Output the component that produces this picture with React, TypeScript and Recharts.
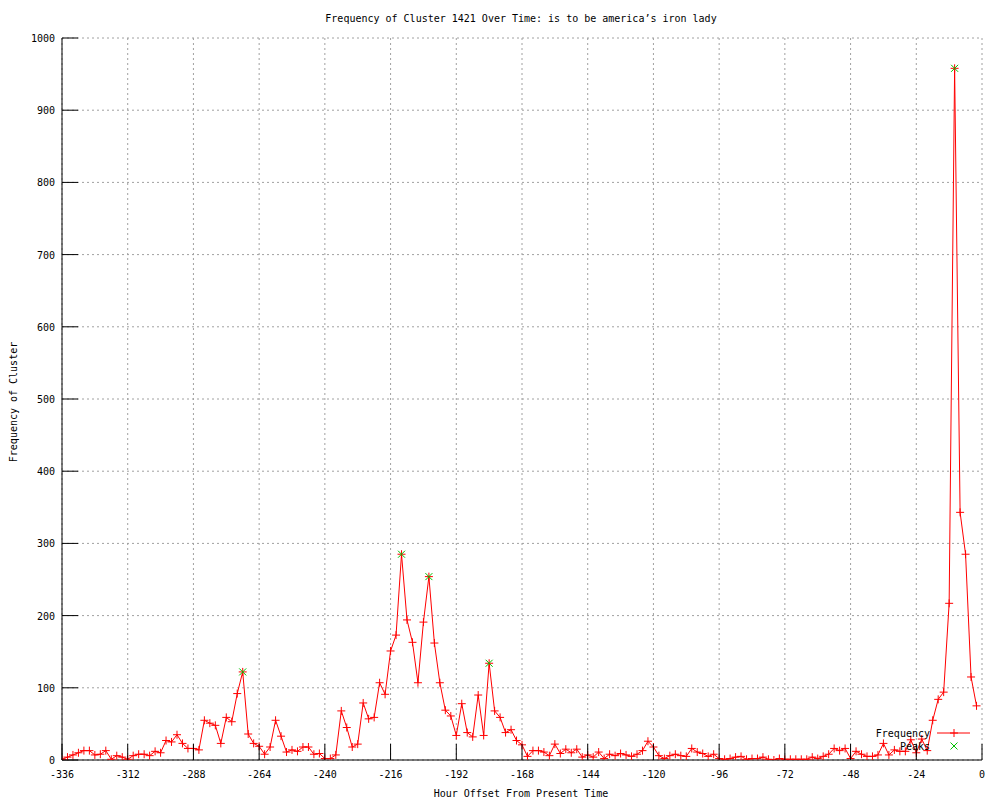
import { CartesianGrid, ComposedChart, Line, Scatter, XAxis, YAxis } from "recharts";

const hours = [
  -336, -334, -332, -330, -328, -326, -324, -322, -320, -318, -316, -314, -312, -310, -308, -306, -304, -302, -300,
  -298, -296, -294, -292, -290, -288, -286, -284, -282, -280, -278, -276, -274, -272, -270, -268, -266, -264, -262,
  -260, -258, -256, -254, -252, -250, -248, -246, -244, -242, -240, -238, -236, -234, -232, -230, -228, -226, -224,
  -222, -220, -218, -216, -214, -212, -210, -208, -206, -204, -202, -200, -198, -196, -194, -192, -190, -188, -186,
  -184, -182, -180, -178, -176, -174, -172, -170, -168, -166, -164, -162, -160, -158, -156, -154, -152, -150, -148,
  -146, -144, -142, -140, -138, -136, -134, -132, -130, -128, -126, -124, -122, -120, -118, -116, -114, -112, -110,
  -108, -106, -104, -102, -100, -98, -96, -94, -92, -90, -88, -86, -84, -82, -80, -78, -76, -74, -72,
  -70, -68, -66, -64, -62, -60, -58, -56, -54, -52, -50, -48, -46, -44, -42, -40, -38, -36, -34,
  -32, -30, -28, -26, -24, -22, -20, -18, -16, -14, -12, -10, -8, -6, -4, -2,
];

const counts = [
  1, 4, 7, 10, 13, 13, 7, 8, 13, 1, 6, 4, 1, 6, 8, 8, 6, 12, 10,
  27, 25, 35, 23, 16, 16, 14, 55, 51, 48, 23, 59, 53, 92, 122, 36, 23, 19, 8,
  18, 55, 33, 11, 14, 12, 18, 18, 8, 9, 2, 2, 7, 68, 45, 18, 22, 79, 57,
  59, 107, 91, 151, 173, 285, 194, 163, 107, 191, 254, 162, 107, 69, 61, 34, 78, 38, 32,
  90, 34, 134, 68, 59, 38, 42, 27, 21, 5, 13, 13, 11, 6, 22, 9, 15, 10, 15,
  4, 7, 4, 11, 2, 8, 6, 9, 7, 5, 8, 13, 26, 18, 6, 2, 6, 8, 6,
  5, 16, 11, 9, 5, 8, 2, 1, 2, 4, 5, 1, 2, 2, 4, 1, 0, 2, 1,
  1, 1, 1, 1, 4, 2, 5, 8, 16, 13, 16, 2, 12, 8, 5, 5, 7, 23, 7,
  14, 12, 12, 28, 10, 29, 13, 55, 84, 94, 217, 958, 343, 285, 115, 75,
];

const peakHours = [-270, -212, -202, -180, -10];
const peakCounts = [122, 285, 254, 134, 958];

const xTicks = [-336, -312, -288, -264, -240, -216, -192, -168, -144, -120, -96, -72, -48, -24, 0];
const yTicks = [0, 100, 200, 300, 400, 500, 600, 700, 800, 900, 1000];

const freqData = hours.map((h, i) => ({ hour: h, count: counts[i] }));
const peakData = peakHours.map((h, i) => ({ hour: h, peak: peakCounts[i] }));

const RED = "#ff0000";
const GREEN = "#00c000";
const FONT = "'DejaVu Sans Mono', monospace";
const TICK = 16;

function plus(cx: number, cy: number, r = 4) {
  return `M${cx - r},${cy}H${cx + r}M${cx},${cy - r}V${cy + r}`;
}

function cross(cx: number, cy: number, r = 3.5) {
  return `M${cx - r},${cy - r}L${cx + r},${cy + r}M${cx - r},${cy + r}L${cx + r},${cy - r}`;
}

function PlusDot(props: any) {
  const { cx, cy, index } = props;
  if (cx == null || cy == null) return <g key={index} />;
  return <path key={index} d={plus(cx, cy)} stroke={RED} strokeWidth={1} fill="none" />;
}

function PeakMark(props: any) {
  const { cx, cy } = props;
  return <path d={cross(cx, cy)} stroke={GREEN} strokeWidth={1} fill="none" />;
}

function BottomTick({ x, y, payload }: any) {
  return (
    <g>
      <line x1={x} x2={x} y1={y} y2={y - TICK} stroke="#000" />
      <text x={x} y={y + 18} textAnchor="middle" fontFamily={FONT} fontSize={10} fill="#000">
        {payload.value}
      </text>
    </g>
  );
}

function TopTick({ x, y }: any) {
  return <line x1={x} x2={x} y1={y} y2={y + TICK} stroke="#000" />;
}

function LeftTick({ x, y, payload }: any) {
  return (
    <g>
      <line x1={x} x2={x + TICK} y1={y} y2={y} stroke="#000" />
      <text x={x - 7} y={y + 4} textAnchor="end" fontFamily={FONT} fontSize={10} fill="#000">
        {payload.value}
      </text>
    </g>
  );
}

function RightTick({ x, y }: any) {
  return <line x1={x} x2={x - TICK} y1={y} y2={y} stroke="#000" />;
}

export default function App() {
  return (
    <div style={{ position: "absolute", left: 0, top: 0, width: 1000, height: 800, background: "#fff" }}>
      <ComposedChart
        width={1000}
        height={800}
        data={freqData}
        margin={{ top: 38, right: 18, bottom: 0, left: 0 }}
      >
        <CartesianGrid stroke="#a0a0a0" strokeDasharray="2 3" />
        <XAxis
          dataKey="hour"
          type="number"
          domain={[-336, 0]}
          ticks={xTicks}
          allowDataOverflow
          height={40}
          tickSize={0}
          tickMargin={0}
          tickLine={false}
          axisLine={{ stroke: "#000" }}
          tick={BottomTick}
          interval={0}
        />
        <XAxis
          xAxisId="top"
          orientation="top"
          dataKey="hour"
          type="number"
          domain={[-336, 0]}
          ticks={xTicks}
          allowDataOverflow
          height={0}
          tickSize={0}
          tickMargin={0}
          tickLine={false}
          axisLine={{ stroke: "#000" }}
          tick={TopTick}
          interval={0}
        />
        <YAxis
          type="number"
          domain={[0, 1000]}
          ticks={yTicks}
          allowDataOverflow
          width={62}
          tickSize={0}
          tickMargin={0}
          tickLine={false}
          axisLine={{ stroke: "#000" }}
          tick={LeftTick}
          interval={0}
        />
        <YAxis
          yAxisId="right"
          orientation="right"
          type="number"
          domain={[0, 1000]}
          ticks={yTicks}
          allowDataOverflow
          width={0}
          tickSize={0}
          tickMargin={0}
          tickLine={false}
          axisLine={{ stroke: "#000" }}
          tick={RightTick}
          interval={0}
        />
        <Line
          dataKey="count"
          stroke={RED}
          strokeWidth={1}
          dot={PlusDot}
          activeDot={false}
          isAnimationActive={false}
        />
        <Scatter data={peakData} dataKey="peak" shape={PeakMark} isAnimationActive={false} />
      </ComposedChart>
      <svg
        width={1000}
        height={800}
        style={{ position: "absolute", left: 0, top: 0, pointerEvents: "none" }}
        fontFamily={FONT}
        fontSize={10}
      >
        <text x={521} y={22} textAnchor="middle">
          Frequency of Cluster 1421 Over Time: is to be america’s iron lady
        </text>
        <text x={521} y={797} textAnchor="middle">
          Hour Offset From Present Time
        </text>
        <text x={17} y={402} textAnchor="middle" transform="rotate(-90 17 402)">
          Frequency of Cluster
        </text>
        <text x={930} y={737} textAnchor="end">
          Frequency
        </text>
        <line x1={937} x2={970} y1={733} y2={733} stroke={RED} />
        <path d={plus(954, 733)} stroke={RED} fill="none" />
        <text x={930} y={750} textAnchor="end">
          Peaks
        </text>
        <path d={cross(954, 746)} stroke={GREEN} fill="none" />
      </svg>
    </div>
  );
}
